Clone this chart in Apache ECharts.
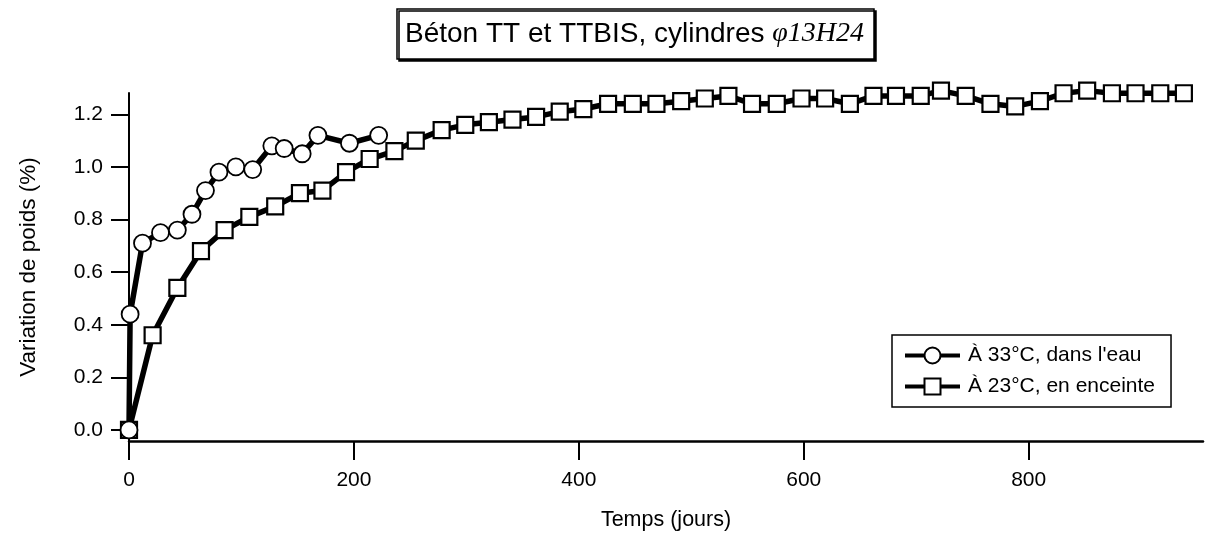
<!DOCTYPE html>
<html><head><meta charset="utf-8">
<script src="https://cdn.jsdelivr.net/npm/echarts@6/dist/echarts.min.js"></script>
<style>html,body{margin:0;padding:0;background:#fff}#c{width:1206px;height:534px}</style>
</head><body><div id="c"></div>
<script>
const xTicks = [0, 200, 400, 600, 800];
const yTicks = [0, 0.2, 0.4, 0.6, 0.8, 1.0, 1.2];
const seriesNames = ["À 33°C, dans l'eau", "À 23°C, en enceinte"];
const days33 = [0, 1, 12, 28, 43, 56, 68, 80, 95, 110, 127, 138, 154, 168, 196, 222];
const val33 = [0.0, 0.44, 0.71, 0.75, 0.76, 0.82, 0.91, 0.98, 1.00, 0.99, 1.08, 1.07, 1.05, 1.12, 1.09, 1.12];
const days23 = [0, 21, 43, 64, 85, 107, 130, 152, 172, 193, 214, 236,
  255, 278, 299, 320, 341, 362, 383, 404, 426, 448, 469, 491, 512, 533, 554, 576,
  598, 619, 641, 662, 682, 704, 722, 744, 766, 788, 810, 831, 852, 874, 895, 917, 938];
const val23 = [0, 0.36, 0.54, 0.68, 0.76, 0.81, 0.85, 0.90, 0.91, 0.98, 1.03, 1.06,
  1.10, 1.14, 1.16, 1.17, 1.18, 1.19, 1.21, 1.22, 1.24, 1.24, 1.24, 1.25, 1.26, 1.27, 1.24, 1.24,
  1.26, 1.26, 1.24, 1.27, 1.27, 1.27, 1.29, 1.27, 1.24, 1.23, 1.25, 1.28, 1.29, 1.28, 1.28, 1.28, 1.28];

const font = '"Liberation Sans", Arial, Helvetica, sans-serif';
const chart = echarts.init(document.getElementById('c'), null, {renderer: 'canvas'});
chart.setOption({
  animation: false,
  backgroundColor: '#fff',
  title: {
    text: 'Béton TT et TTBIS, cylindres {i|φ13H24}',
    left: 397, top: 9,
    padding: [11, 10, 11, 8],
    borderColor: '#000', borderWidth: 1.5,
    backgroundColor: '#fff',
    shadowColor: '#000', shadowOffsetX: 2, shadowOffsetY: 2, shadowBlur: 0,
    textStyle: {
      fontFamily: font, fontSize: 28, fontWeight: 'normal', color: '#000',
      rich: { i: { fontFamily: '"Liberation Serif", "Times New Roman", serif', fontStyle: 'italic', fontSize: 28, color: '#000' } }
    }
  },
  legend: {
    orient: 'vertical', left: 892, top: 335,
    padding: [10, 16, 10, 11], itemGap: 10, itemWidth: 55, itemHeight: 20,
    borderColor: '#000', borderWidth: 1.5, backgroundColor: '#fff',
    lineStyle: { width: 4, color: '#000' },
    textStyle: { fontFamily: font, fontSize: 21, color: '#000', lineHeight: 20, padding: [0, 0, 0, 3] },
    data: seriesNames
  },
  grid: { left: 129, right: 3, top: 93, bottom: 93, containLabel: false, outerBoundsMode: 'none' },
  xAxis: {
    type: 'value', min: 0, max: 955,
    name: 'Temps (jours)', nameLocation: 'middle', nameGap: 68,
    nameTextStyle: { fontFamily: font, fontSize: 21.5, color: '#000' },
    axisLine: { show: true, onZero: false, lineStyle: { color: '#000', width: 2.5 } },
    axisTick: { show: true, length: 19, customValues: xTicks, lineStyle: { color: '#000', width: 2 } },
    axisLabel: { customValues: xTicks, margin: 29, fontFamily: font, fontSize: 21, color: '#000' },
    splitLine: { show: false }
  },
  yAxis: {
    type: 'value', min: -0.042, max: 1.281,
    name: 'Variation de poids (%)', nameLocation: 'middle', nameGap: 89, nameRotate: 90,
    nameTextStyle: { fontFamily: font, fontSize: 22.5, color: '#000' },
    axisLine: { show: true, lineStyle: { color: '#000', width: 2 } },
    axisTick: { show: true, length: 18, customValues: yTicks, lineStyle: { color: '#000', width: 2 } },
    axisLabel: { customValues: yTicks, margin: 26, fontFamily: font, fontSize: 21, color: '#000',
      formatter: v => v.toFixed(1) },
    splitLine: { show: false }
  },
  series: [
    {
      name: seriesNames[1], type: 'line', clip: false, z: 2,
      data: days23.map((d, i) => [d, val23[i]]),
      symbol: 'rect', symbolSize: 16, showAllSymbol: true,
      lineStyle: { color: '#000', width: 5.5 },
      itemStyle: { color: '#fff', borderColor: '#000', borderWidth: 2.2 }
    },
    {
      name: seriesNames[0], type: 'line', clip: false, z: 3,
      data: days33.map((d, i) => [d, val33[i]]),
      symbol: 'circle', symbolSize: 17, showAllSymbol: true,
      lineStyle: { color: '#000', width: 5.5 },
      itemStyle: { color: '#fff', borderColor: '#000', borderWidth: 1.8 }
    }
  ]
});
</script></body></html>
